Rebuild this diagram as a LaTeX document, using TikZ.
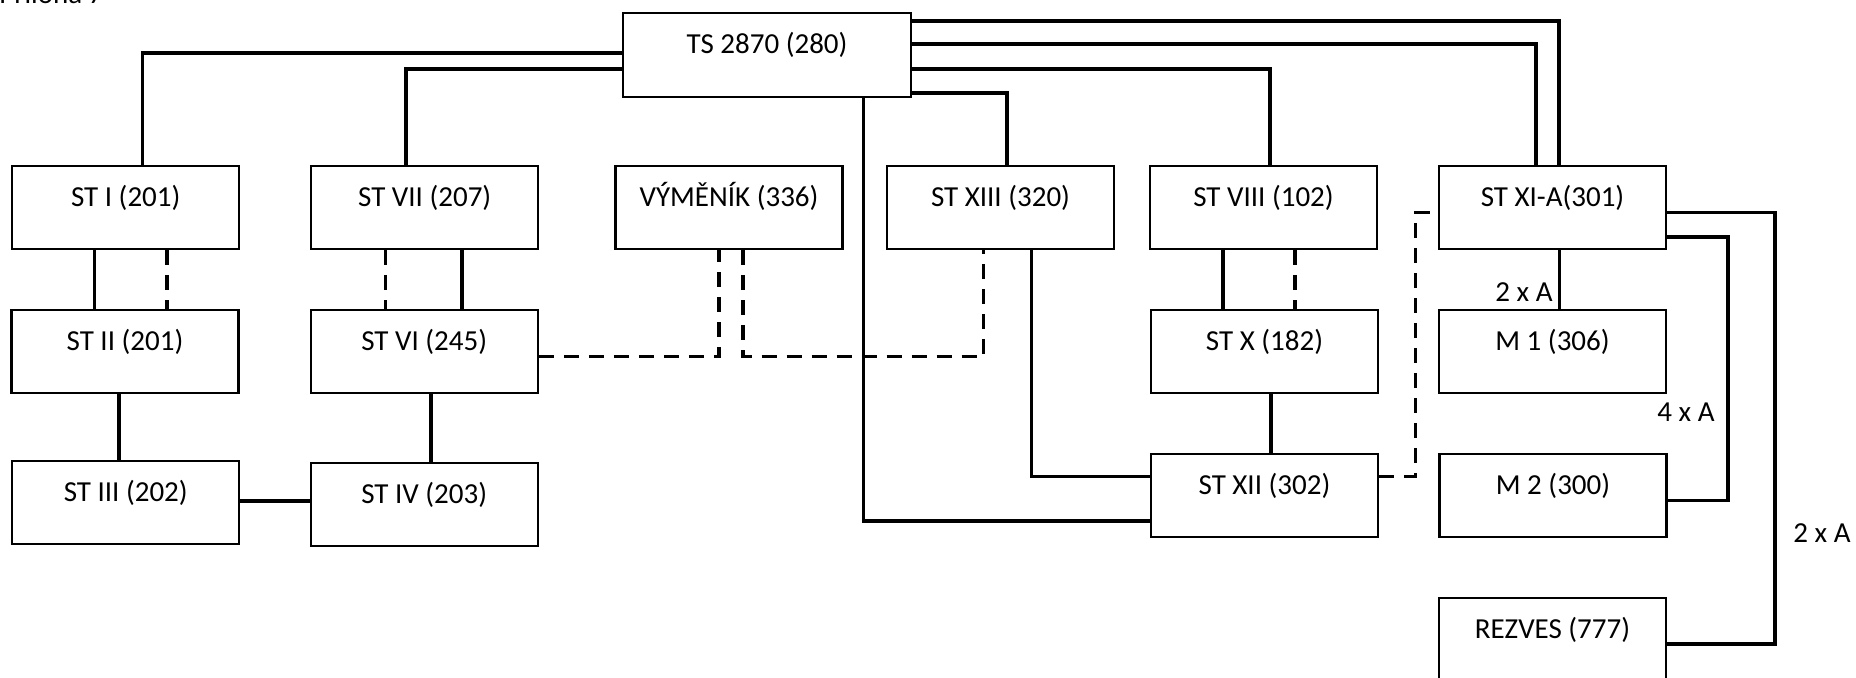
\documentclass[tikz,border=0pt]{standalone}
\usepackage{fontspec}
\setmainfont{Carlito}
\begin{document}
\begin{tikzpicture}[x=0.5pt,y=-0.5pt,
  txt/.style={font=\fontsize{14.5pt}{17pt}\selectfont},
  box/.style={txt, draw, line width=1.1pt, anchor=north, inner xsep=0pt, inner ysep=0pt,
    minimum width=113.5pt, text height=20pt, text depth=21.5pt},
  conn/.style={line width=1.7pt},
  dconn/.style={line width=1.7pt, dash pattern=on 7.5pt off 5pt},
  lbl/.style={txt, inner sep=0pt, anchor=base east}]
\useasboundingbox (0,0) rectangle (1856,678);
\node[txt, anchor=base west, inner sep=0pt] (title) at (-1,4) {Příloha 7};
% boxes
\node[box, minimum width=144pt, text depth=22pt] (ts) at (767,12) {TS 2870 (280)};
\node[box] (st1)  at (125.75,165) {ST I (201)};
\node[box] (st7)  at (424.75,165) {ST VII (207)};
\node[box] (vym)  at (729,165)    {VÝMĚNÍK (336)};
\node[box] (st13) at (1000.5,165) {ST XIII (320)};
\node[box] (st8)  at (1263.5,165) {ST VIII (102)};
\node[box] (st11a) at (1552.5,165) {ST XI-A(301)};
\node[box] (st2)  at (125,309)    {ST II (201)};
\node[box] (st6)  at (424.25,309) {ST VI (245)};
\node[box] (st10) at (1264.5,309) {ST X (182)};
\node[box] (m1)   at (1552.5,309) {M 1 (306)};
\node[box] (st3)  at (125.75,460) {ST III (202)};
\node[box] (st4)  at (424.25,462) {ST IV (203)};
\node[box] (st12) at (1264.5,453) {ST XII (302)};
\node[box] (m2)   at (1553,453)   {M 2 (300)};
\node[box] (rez)  at (1552.5,597) {REZVES (777)};
% connectors from TS
\draw[conn] (ts.west |- 0,53) -| (142.5,0 |- st1.north);
\draw[conn] (ts.west |- 0,69) -| (406,0 |- st7.north);
\draw[conn] (ts.east |- 0,21) -| (1559,0 |- st11a.north);
\draw[conn] (ts.east |- 0,44) -| (1536,0 |- st11a.north);
\draw[conn] (ts.east |- 0,69) -| (1270,0 |- st8.north);
\draw[conn] (ts.east |- 0,93) -| (1007,0 |- st13.north);
\draw[conn] (863.5,0 |- ts.south) |- (st12.west |- 0,521);
% left columns
\draw[conn]  (94.6,0 |- st1.south) -- (94.6,0 |- st2.north);
\draw[dconn] (167,0 |- st1.south) -- (167,0 |- st2.north);
\draw[dconn] (385.7,0 |- st7.south) -- (385.7,0 |- st6.north);
\draw[conn]  (462,0 |- st7.south) -- (462,0 |- st6.north);
\draw[conn]  (119,0 |- st2.south) -- (119,0 |- st3.north);
\draw[conn]  (431,0 |- st6.south) -- (431,0 |- st4.north);
\draw[conn]  (st3.east |- 0,501) -- (st4.west |- 0,501);
% dashed links through VYMENIK
\draw[dconn] (st6.east |- 0,356.7) -| (719,0 |- vym.south);
\draw[dconn] (743,0 |- vym.south) |- (983.5,356.7) -- (983.5,0 |- st13.south);
% right part
\draw[conn]  (1031.5,0 |- st13.south) |- (st12.west |- 0,476.5);
\draw[conn]  (1223,0 |- st8.south) -- (1223,0 |- st10.north);
\draw[dconn] (1295,0 |- st8.south) -- (1295,0 |- st10.north);
\draw[conn]  (1271,0 |- st10.south) -- (1271,0 |- st12.north);
\draw[dconn] (st12.east |- 0,476.5) -- (1415.5,476.5) -- (1415.5,212.7) -- (st11a.west |- 0,212.7);
\draw[conn]  (1559.3,0 |- st11a.south) -- (1559.3,0 |- m1.north);
\draw[conn]  (st11a.east |- 0,237) -- (1728,237) -- (1728,500.7) -- (m2.east |- 0,500.7);
\draw[conn]  (st11a.east |- 0,212.7) -- (1775,212.7) -- (1775,644) -- (rez.east |- 0,644);
% labels
\node[lbl] (l1) at (1553,302) {2 x A};
\node[lbl] (l2) at (1715,422) {4 x A};
\node[lbl] (l3) at (1851,542) {2 x A};
\end{tikzpicture}
\end{document}
